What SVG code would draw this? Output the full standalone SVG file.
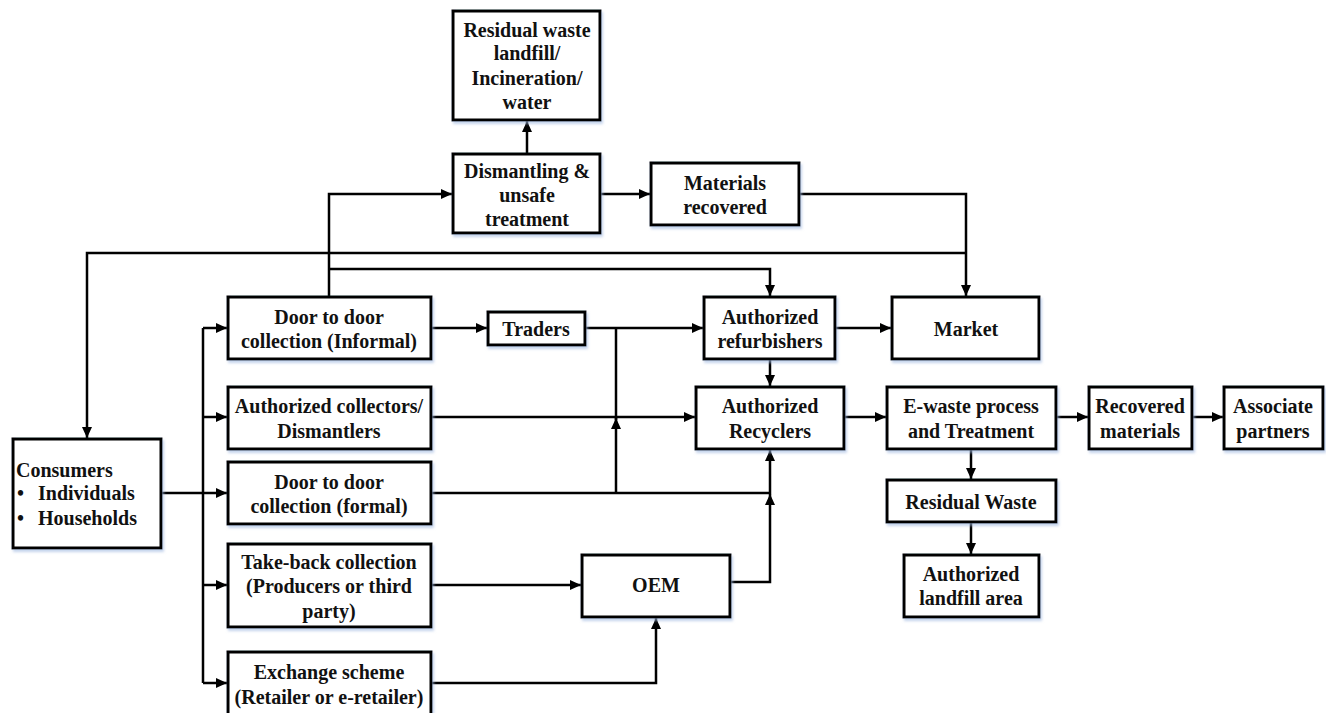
<svg xmlns="http://www.w3.org/2000/svg" width="1326" height="713" viewBox="0 0 1326 713">
<style>
.box{fill:#fff;stroke:#000;stroke-width:3;filter:url(#sh)}
.t{font-family:"Liberation Serif","Times New Roman",serif;font-weight:bold;font-size:20px;fill:#111;text-anchor:middle}
.tl{text-anchor:start}
.c{fill:none;stroke:#000;stroke-width:2.5}
.a{marker-end:url(#ar)}
</style>
<defs>
<marker id="ar" markerUnits="userSpaceOnUse" markerWidth="11" markerHeight="10" refX="11" refY="5" orient="auto">
<path d="M0,0 L11,5 L0,10 z" fill="#000"/>
</marker>
<filter id="sh" x="-10%" y="-10%" width="125%" height="130%">
<feDropShadow dx="1.5" dy="2.5" stdDeviation="1.2" flood-color="#9fb8e0" flood-opacity="0.6"/>
</filter>
</defs>
<g id="connectors">
<path class="c a" d="M527,154 V121"/>
<path class="c a" d="M329,297 V194 H452"/>
<path class="c a" d="M600,194 H650"/>
<path class="c a" d="M799,194 H966 V296"/>
<path class="c a" d="M966,253 H87 V438"/>
<path class="c a" d="M329,269 H770 V296"/>
<path class="c a" d="M161,493 H227"/>
<path class="c" d="M203,328 V683"/>
<path class="c a" d="M203,328 H227"/>
<path class="c a" d="M203,417 H227"/>
<path class="c a" d="M203,585 H227"/>
<path class="c a" d="M203,683 H227"/>
<path class="c a" d="M431,328 H487"/>
<path class="c a" d="M585,328 H703"/>
<path class="c a" d="M431,417 H695"/>
<path class="c a" d="M431,493 H770 V450"/>
<path class="c a" d="M616,493 V418"/>
<path class="c" d="M616,420 V328"/>
<path class="c a" d="M835,328 H891"/>
<path class="c a" d="M770,359 V386"/>
<path class="c a" d="M730,582 H770 V494"/>
<path class="c a" d="M431,585 H581"/>
<path class="c a" d="M431,683 H656 V618"/>
<path class="c a" d="M844,417 H886"/>
<path class="c a" d="M1056,417 H1088"/>
<path class="c a" d="M1192,417 H1223"/>
<path class="c a" d="M971,449 V479"/>
<path class="c a" d="M971,522 V554"/>
</g>
<g id="residual-landfill">
<rect class="box" x="453" y="11" width="147" height="109"/>
<text class="t" x="527" y="37">Residual waste</text>
<text class="t" x="527" y="60">landfill/</text>
<text class="t" x="527" y="85">Incineration/</text>
<text class="t" x="527" y="109">water</text>
</g>
<g id="dismantling">
<rect class="box" x="453" y="154" width="147" height="79"/>
<text class="t" x="527" y="178">Dismantling &amp;</text>
<text class="t" x="527" y="202">unsafe</text>
<text class="t" x="527" y="226">treatment</text>
</g>
<g id="materials-recovered">
<rect class="box" x="651" y="163" width="148" height="62"/>
<text class="t" x="725" y="190">Materials</text>
<text class="t" x="725" y="214">recovered</text>
</g>
<g id="consumers">
<rect class="box" x="13" y="439" width="148" height="109"/>
<text class="t tl" x="16" y="477">Consumers</text>
<text class="t tl" x="17" y="500">•</text>
<text class="t tl" x="38" y="500">Individuals</text>
<text class="t tl" x="17" y="525">•</text>
<text class="t tl" x="38" y="525">Households</text>
</g>
<g id="door-informal">
<rect class="box" x="228" y="297" width="203" height="62"/>
<text class="t" x="329" y="324">Door to door</text>
<text class="t" x="329" y="348">collection (Informal)</text>
</g>
<g id="traders">
<rect class="box" x="488" y="312" width="97" height="33"/>
<text class="t" x="536" y="336">Traders</text>
</g>
<g id="refurbishers">
<rect class="box" x="704" y="297" width="131" height="62"/>
<text class="t" x="770" y="324">Authorized</text>
<text class="t" x="770" y="348">refurbishers</text>
</g>
<g id="market">
<rect class="box" x="892" y="297" width="147" height="62"/>
<text class="t" x="966" y="336">Market</text>
</g>
<g id="collectors">
<rect class="box" x="228" y="387" width="203" height="62"/>
<text class="t" x="329" y="413">Authorized collectors/</text>
<text class="t" x="329" y="438">Dismantlers</text>
</g>
<g id="recyclers">
<rect class="box" x="696" y="387" width="148" height="62"/>
<text class="t" x="770" y="413">Authorized</text>
<text class="t" x="770" y="438">Recyclers</text>
</g>
<g id="ewaste">
<rect class="box" x="887" y="387" width="169" height="62"/>
<text class="t" x="971" y="413">E-waste process</text>
<text class="t" x="971" y="438">and Treatment</text>
</g>
<g id="recovered-materials">
<rect class="box" x="1089" y="387" width="103" height="62"/>
<text class="t" x="1140" y="413">Recovered</text>
<text class="t" x="1140" y="438">materials</text>
</g>
<g id="associate">
<rect class="box" x="1224" y="387" width="99" height="62"/>
<text class="t" x="1273" y="413">Associate</text>
<text class="t" x="1273" y="438">partners</text>
</g>
<g id="door-formal">
<rect class="box" x="228" y="462" width="203" height="62"/>
<text class="t" x="329" y="489">Door to door</text>
<text class="t" x="329" y="513">collection (formal)</text>
</g>
<g id="residual-waste">
<rect class="box" x="887" y="480" width="169" height="42"/>
<text class="t" x="971" y="509">Residual Waste</text>
</g>
<g id="takeback">
<rect class="box" x="228" y="544" width="203" height="83"/>
<text class="t" x="329" y="569">Take-back collection</text>
<text class="t" x="329" y="593">(Producers or third</text>
<text class="t" x="329" y="618">party)</text>
</g>
<g id="oem">
<rect class="box" x="582" y="555" width="148" height="62"/>
<text class="t" x="656" y="592">OEM</text>
</g>
<g id="landfill-area">
<rect class="box" x="904" y="555" width="135" height="62"/>
<text class="t" x="971" y="581">Authorized</text>
<text class="t" x="971" y="605">landfill area</text>
</g>
<g id="exchange">
<rect class="box" x="228" y="652" width="203" height="68"/>
<text class="t" x="329" y="679">Exchange scheme</text>
<text class="t" x="329" y="704">(Retailer or e-retailer)</text>
</g>
</svg>
